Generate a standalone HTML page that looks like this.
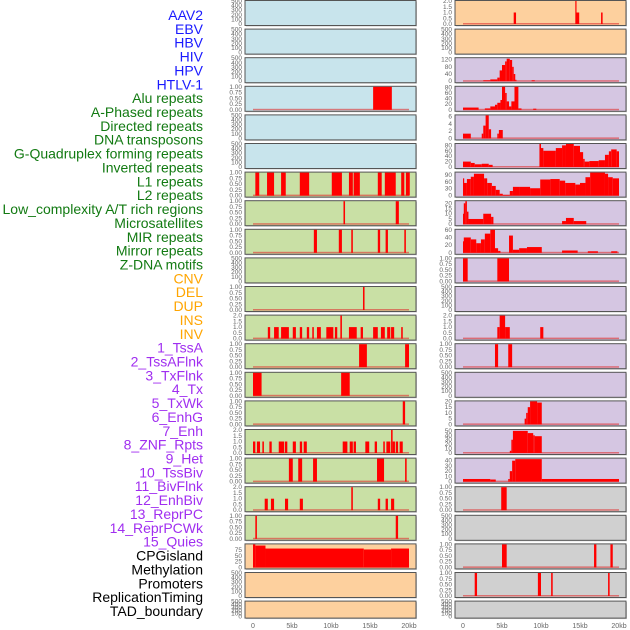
<!DOCTYPE html>
<html><head><meta charset="utf-8"><style>
body{margin:0;background:#fff;width:630px;height:630px;overflow:hidden}
svg{display:block;font-family:"Liberation Sans",sans-serif}
</style></head><body>
<svg id="chart" width="630" height="630" xmlns="http://www.w3.org/2000/svg">
<g id="labels"></g>
<g id="panels"></g>
<g id="xaxes"></g>
</svg>
<script>
const trackLabels = ["AAV2","EBV","HBV","HIV","HPV","HTLV-1","Alu repeats","A-Phased repeats","Directed repeats","DNA transposons","G-Quadruplex forming repeats","Inverted repeats","L1 repeats","L2 repeats","Low_complexity A/T rich regions","Microsatellites","MIR repeats","Mirror repeats","Z-DNA motifs","CNV","DEL","DUP","INS","INV","1_TssA","2_TssAFlnk","3_TxFlnk","4_Tx","5_TxWk","6_EnhG","7_Enh","8_ZNF_Rpts","9_Het","10_TssBiv","11_BivFlnk","12_EnhBiv","13_ReprPC","14_ReprPCWk","15_Quies","CPGisland","Methylation","Promoters","ReplicationTiming","TAD_boundary"];
const labelGroups = [6,13,5,15,5];
const groupColors = ["#1a1aff","#127a12","#ffa500","#a02ef0","#000000"];
const xTickLabels = ["0","5kb","10kb","15kb","20kb"];
const xTickValues = [0,5,10,15,20];

const T500 = ["0","100","200","300","400","500"];
const T1 = ["0.00","0.25","0.50","0.75","1.00"];
const T2 = ["0.0","0.5","1.0","1.5","2.0"];

// left column data: [startKb, endKb, value]
const L04 = [[15.4,17.8,1]];
const L07 = [[0.3,0.8,1],[1.8,2.7,1],[3.6,4.2,1],[6.0,7.2,1],[10.1,11.4,1],[12.3,12.8,1],[12.9,13.7,1],[16.0,16.5,1],[16.9,18.3,1],[19.0,19.4,1],[19.6,20.1,1]];
const L08 = [[11.6,11.8,1],[18.3,18.7,1]];
const L09 = [[7.8,8.2,1],[11.0,11.4,1],[12.6,12.8,1],[16.0,16.3,1],[17.0,17.3,1],[19.4,19.6,1]];
const L11 = [[14.1,14.3,1]];
const L12 = [[1.9,2.2,1],[2.7,3.3,1],[3.6,4.6,1],[5.1,5.5,1],[6.0,6.3,1],[6.9,7.2,1],[7.6,7.8,1],[8.2,8.7,1],[9.4,10.3,1],[10.5,10.8,1],[11.2,11.4,2],[12.3,13.3,1],[13.8,14.1,1],[15.4,16.0,1],[16.4,16.9,1],[17.2,17.6,1],[17.7,18.1,1],[19.0,19.2,1]];
const L13 = [[13.6,14.6,1],[19.5,20.0,1]];
const L14 = [[0,1.1,1],[11.3,12.4,1]];
const L15 = [[19.2,19.5,1]];
const L16 = [[0,0.3,1],[0.5,0.9,1],[1.2,1.4,1],[2.1,2.4,1],[3.3,4.0,1],[4.1,4.4,1],[5.1,5.5,1],[6.0,6.3,1],[6.5,6.9,1],[11.5,12.1,1],[12.4,12.8,1],[12.9,13.2,1],[14.4,14.9,1],[15.6,15.9,1],[16.7,16.9,1],[17.1,17.6,1],[17.7,17.9,2],[17.9,18.2,1],[18.3,18.6,1],[18.8,19.2,1]];
const L17 = [[4.6,5.1,1],[5.8,6.3,1],[7.7,8.2,1],[15.9,16.8,1],[19.5,19.7,1]];
const L18 = [[1.5,1.9,1],[2.3,2.7,1],[4.1,4.5,1],[6.0,6.4,1],[12.6,12.8,2],[16.0,16.3,1],[17.0,17.3,1],[17.7,18.1,1]];
const L19 = [[0.3,0.5,1],[18.3,18.6,1]];
const L20 = [[0,0.3,100],[0.3,1.6,95],[1.6,14.2,82],[14.2,17.7,78],[17.7,20.0,82]];

// right column data
const R01 = [[6.5,6.8,1],[14.4,14.5,2],[14.5,14.9,1],[17.7,17.9,1]];
const R03 = [[2.6,3.5,5],[3.5,4.4,10],[4.4,4.7,20],[4.7,5.0,60],[5.0,5.4,90],[5.4,5.6,110],[5.6,6.0,125],[6.0,6.3,118],[6.3,6.5,80],[6.5,6.7,40],[6.7,6.8,8],[8.8,9.2,5]];
const R04 = [[0,2.0,8],[2.8,3.5,5],[3.5,4.1,12],[4.1,4.4,18],[4.4,4.8,25],[4.8,5.0,35],[5.0,5.4,82],[5.4,5.6,60],[5.6,5.9,30],[5.9,6.2,12],[6.2,6.6,30],[6.6,7.1,82],[7.1,7.5,5],[9.0,9.4,4]];
const R05 = [[0,1.0,1.3],[2.4,2.6,1.3],[2.6,2.9,3.5],[2.9,3.3,6.3],[3.3,3.6,2.5],[4.4,4.6,1.3],[4.6,5.1,2.3]];
const R06 = [[0,1.0,20],[1.0,1.5,15],[1.5,2.4,10],[2.4,3.3,12],[3.3,3.8,8],[9.8,10.0,85],[10.0,10.3,70],[10.3,11.9,60],[11.9,12.7,70],[12.7,13.2,80],[13.2,14.2,85],[14.2,15.0,78],[15.0,15.4,55],[15.4,15.6,30],[15.6,16.2,20],[16.2,17.4,22],[17.4,18.2,25],[18.2,18.7,45],[18.7,19.0,58],[19.0,19.7,65],[19.7,20.0,58]];
const R07 = [[0,0.1,75],[0.1,0.5,55],[0.5,1.0,72],[1.0,1.4,82],[1.4,2.7,95],[2.7,3.1,75],[3.1,3.7,55],[3.7,4.2,42],[4.2,4.7,25],[4.7,5.1,8],[5.1,6.0,3],[6.0,6.4,20],[6.4,7.3,38],[7.3,8.6,38],[8.6,9.9,32],[9.9,11.2,70],[11.2,12.4,72],[12.4,13.1,65],[13.1,14.4,55],[14.4,15.0,48],[15.0,15.7,55],[15.7,16.3,80],[16.3,18.2,100],[18.2,18.6,95],[18.6,19.2,80],[19.2,20.0,75]];
const R08 = [[0,0.1,10],[0.1,0.3,20],[0.3,0.5,22],[0.5,0.7,12],[0.7,2.6,5],[2.6,3.6,10],[3.6,3.9,7],[12.7,13.2,3],[13.2,14.2,6],[14.2,15.8,3]];
const R09 = [[0,0.1,30],[0.1,1.0,40],[1.0,1.7,35],[1.7,2.3,25],[2.3,2.8,35],[2.8,3.5,50],[3.5,4.1,60],[4.1,4.5,12],[4.5,4.8,5],[5.9,6.4,45],[6.4,7.2,8],[7.2,8.2,12],[8.2,10.1,15],[12.7,14.7,6],[16.0,17.3,4],[19.0,19.8,4]];
const R10 = [[0,0.6,1],[4.4,5.9,1]];
const R12 = [[4.4,4.7,1],[4.7,5.4,2],[5.4,6.0,1],[9.9,10.3,1]];
const R13 = [[4.1,4.5,1],[5.8,6.3,1]];
const R15 = [[7.9,8.1,5],[8.1,8.3,10],[8.3,8.6,15],[8.6,9.5,20],[9.5,10.1,19]];
const R16 = [[6.0,6.2,5],[6.2,6.4,30],[6.4,8.3,50],[8.3,9.0,45],[9.0,9.2,40],[9.2,10.1,38]];
const R17 = [[0,3.5,5],[3.5,4.2,4],[5.8,6.0,5],[6.0,6.3,20],[6.3,6.7,40],[6.7,10.1,43],[10.1,20.0,5]];
const R18 = [[4.9,5.6,1]];
const R20 = [[5.0,5.6,1],[16.8,17.1,1],[18.9,19.2,1]];
const R21 = [[1.5,1.8,1],[9.6,10.0,1],[11.3,11.5,1],[18.6,18.8,1]];

const BLUE="#c8e4ec", GREEN="#c9e0a5", ORANGE="#fdd09e", LAV="#d5c6e2", GREY="#d0d0d0";
// [column, row, bg, ticks, ymax, data]
const panels = [
 [0,0,BLUE,T500,500,[]],[0,1,BLUE,T500,500,[]],[0,2,BLUE,T500,500,[]],[0,3,BLUE,T1,1,L04],
 [0,4,BLUE,T500,500,[]],[0,5,BLUE,T500,500,[]],[0,6,GREEN,T1,1,L07],[0,7,GREEN,T1,1,L08],
 [0,8,GREEN,T1,1,L09],[0,9,GREEN,T500,500,[]],[0,10,GREEN,T1,1,L11],[0,11,GREEN,T2,2,L12],
 [0,12,GREEN,T1,1,L13],[0,13,GREEN,T1,1,L14],[0,14,GREEN,T1,1,L15],[0,15,GREEN,T2,2,L16],
 [0,16,GREEN,T1,1,L17],[0,17,GREEN,T2,2,L18],[0,18,GREEN,T1,1,L19],[0,19,ORANGE,["0","25","50","75"],100,L20],
 [0,20,ORANGE,T500,500,[]],[0,21,ORANGE,T500,500,[]],
 [1,0,ORANGE,T2,2,R01],[1,1,ORANGE,T500,500,[]],[1,2,LAV,["0","40","80","120"],128,R03],[1,3,LAV,["0","20","40","60","80"],82,R04],
 [1,4,LAV,["0","2","4","6"],6.3,R05],[1,5,LAV,["0","20","40","60","80"],85,R06],[1,6,LAV,["0","30","60","90"],100,R07],[1,7,LAV,["0","5","10","15","20"],22,R08],
 [1,8,LAV,["0","20","40","60"],60,R09],[1,9,LAV,T1,1,R10],[1,10,LAV,T500,500,[]],[1,11,LAV,T2,2,R12],
 [1,12,LAV,T1,1,R13],[1,13,LAV,T500,500,[]],[1,14,LAV,["0","5","10","15","20"],20,R15],[1,15,LAV,["0","10","20","30","40","50"],52,R16],
 [1,16,LAV,["0","10","20","30","40"],44,R17],[1,17,GREY,T1,1,R18],[1,18,GREY,T500,500,[]],[1,19,GREY,T1,1,R20],
 [1,20,GREY,T1,1,R21],[1,21,GREY,T500,500,[]]
];

const NS="http://www.w3.org/2000/svg";
function mk(tag,attrs,parent){const e=document.createElementNS(NS,tag);for(const k in attrs)e.setAttribute(k,attrs[k]);parent.appendChild(e);return e;}
const colLeft=[245,455], colW=171, kbScale=7.8, kbOff=8;
function xScale(col,kb){return colLeft[col]+kbOff+kb*kbScale;}

// labels
const lg=document.getElementById('labels');
let idx=0;
labelGroups.forEach((n,g)=>{for(let k=0;k<n;k++){
 const t=mk('text',{x:203,y:20+idx*13.86,'text-anchor':'end','font-size':'14',fill:groupColors[g]},lg);
 t.textContent=trackLabels[idx];
 
 
 idx++;}});

const pg=document.getElementById('panels');
panels.forEach(p=>{
 const [col,row,bg,ticks,ymax,data]=p;
 const top=row*28.6+0.5, h=(row===21?17:25), x0=colLeft[col];
 const g=mk('g',{},pg);
 
 
 mk('rect',{x:x0+1,y:top+1,width:colW,height:h,fill:'#999','opacity':0.5},g);
 mk('rect',{x:x0,y:top,width:colW,height:h,fill:bg,stroke:'#555','stroke-width':1},g);
 const y0=top+h-1.5, y1=top+0.5;
 const yScale=v=>y0-(v/ymax)*(y0-y1);
 const tv=ticks.map(Number);
 ticks.forEach((lab,i)=>{
  const t=mk('text',{x:x0-3,y:yScale(tv[i])+2,'text-anchor':'end','font-size':'6.5',fill:'#666'},g);
  t.textContent=lab;
  
  
 });
 if(ticks!==T500){
  const bl=mk('rect',{x:xScale(col,0),y:y0-1,width:20*kbScale,height:1.5,fill:'#e03030',opacity:0.6},g);
  
  
 }
 data.forEach(d=>{
  const xa=xScale(col,d[0]), xb=xScale(col,d[1]);
  const r=mk('rect',{x:xa,y:yScale(d[2]),width:Math.max(1.2,xb-xa),height:y0-yScale(d[2]),fill:'#ff0000'},g);
  
  
 });
});

const xg=document.getElementById('xaxes');
[0,1].forEach(col=>{xTickValues.forEach((v,i)=>{
 const t=mk('text',{x:xScale(col,v),y:628,'text-anchor':'middle','font-size':'7',fill:'#666'},xg);
 t.textContent=xTickLabels[i];
 
 
});});
</script>
</body></html>
